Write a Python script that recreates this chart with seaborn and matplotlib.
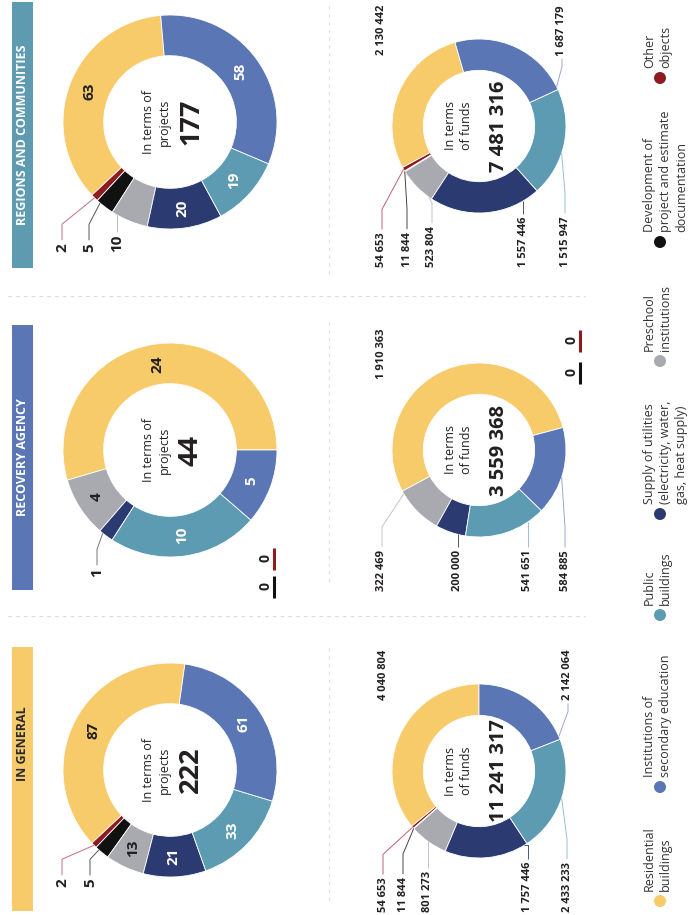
import numpy as np
import seaborn as sns
import matplotlib.pyplot as plt
from matplotlib.patches import Rectangle, Circle

# ---- data ----
categories = ["Residential\nbuildings",
              "Institutions of\nsecondary education",
              "Public\nbuildings",
              "Supply of utilities\n(electricity, water,\ngas, heat supply)",
              "Preschool\ninstitutions",
              "Development of\nproject and estimate\ndocumentation",
              "Other\nobjects"]
panel_titles = ["IN GENERAL", "RECOVERY AGENCY", "REGIONS AND COMMUNITIES"]

general_projects = [87, 61, 33, 21, 13, 5, 2]
agency_projects = [24, 5, 10, 1, 4, 0, 0]
regions_projects = [63, 58, 19, 20, 10, 5, 2]
projects_totals = [222, 44, 177]

general_funds = [4040804, 2142064, 2433233, 1757446, 801273, 11844, 54653]
agency_funds = [1910363, 584885, 541651, 200000, 322469, 0, 0]
regions_funds = [2130442, 1687179, 1515947, 1557446, 523804, 11844, 54653]
funds_totals = [11241317, 3559368, 7481316]

palette = sns.color_palette(["#F8CB6A", "#5A76B5", "#5C9BB2", "#2B3B71",
                             "#A9AAB0", "#111111", "#8E1B20"])
bar_colors = ["#F8CB6A", "#5A76B5", "#5E9BB1"]
bar_text_colors = ["#2a2a2a", "white", "white"]
dark_text = ["#231f20", "white", "white", "white", "#231f20", "white", "white"]
TXT = "#231f20"

# ---- layout (pixels of the 698x915 page, y downwards) ----
W, H = 698, 915
order = [0, 6, 5, 4, 3, 2, 1]          # drawing order around the ring

proj_cx, proj_r = 170, 107
proj_cy = [770, 450, 122]
proj_start = [82, 0, 95]
proj_outside = [{6: 62, 5: 90}, {3: 97}, {6: 62, 5: 89, 4: 117}]
proj_label_base = [887, 577, 252]

funds_cx, funds_r = 479, 87
funds_cy = [771, 450, 126]
funds_start = [90, 15, 106]
funds_top = [{0: 383, 1: 568}, {0: 382}, {0: 382, 1: 562}]
funds_bottom = [{6: 383, 5: 403, 4: 428, 3: 528, 2: 567},
                {4: 382, 3: 458, 2: 528, 1: 565},
                {6: 382, 5: 407, 4: 432, 3: 523, 2: 565}]

bar_spans = [(647, 911), (325, 590), (2, 268)]
bar_text_y = [744, 457, 135]
legend_y = [901, 787, 615, 514, 361, 242, 78]

sns.set_theme(style="white")
plt.rcParams['font.family'] = ['Open Sans', 'DejaVu Sans']

fig = plt.figure(figsize=(W / 100, H / 100), dpi=100)
fig.patch.set_facecolor("white")


def fmt(v):
    return f"{v:,}".replace(",", " ")


def donut(vals, cx, cy, r, start, width):
    ax = fig.add_axes([(cx - r) / W, 1 - (cy + r) / H, 2 * r / W, 2 * r / H])
    idx = [i for i in order if vals[i] > 0]
    ax.pie([vals[i] for i in idx], colors=[palette[i] for i in idx],
           startangle=start, counterclock=True, radius=1,
           wedgeprops=dict(width=width, edgecolor="white", linewidth=0.6))
    ax.set_xlim(-1, 1)
    ax.set_ylim(-1, 1)
    ax.set_aspect("equal")
    ax.axis("off")
    # angular range of each category
    v = np.array([vals[i] for i in order], float)
    edges = start + np.concatenate([[0], np.cumsum(v / v.sum() * 360)])
    return {c: (edges[k], edges[k + 1]) for k, c in enumerate(order)}


def attach(cx, cy, r, rng, lx, top):
    a0, a1 = rng
    m = min(2.0, (a1 - a0) / 2)
    lo, hi = a0 + m, a1 - m
    t = np.clip((lx - cx) / r, -0.95, 0.95)
    base = np.degrees(np.arccos(t))
    th = base if top else 360 - base
    cands = [th + 360 * k for k in (-1, 0, 1, 2)]
    best = min(cands, key=lambda c: abs(np.clip(c, lo, hi) - c))
    th = np.radians(np.clip(best, lo, hi))
    return cx + r * np.cos(th), cy - r * np.sin(th)


# donuts first, overlay axes on top
proj_sets = [general_projects, agency_projects, regions_projects]
funds_sets = [general_funds, agency_funds, regions_funds]
proj_rng, funds_rng = [], []
for p in range(3):
    proj_rng.append(donut(proj_sets[p], proj_cx, proj_cy[p], proj_r, proj_start[p], 0.38))
    funds_rng.append(donut(funds_sets[p], funds_cx, funds_cy[p], funds_r, funds_start[p], 0.36))

ax0 = fig.add_axes([0, 0, 1, 1])
ax0.set_xlim(0, W)
ax0.set_ylim(H, 0)
ax0.axis("off")
renderer = fig.canvas.get_renderer()


def text_span(t):
    bb = t.get_window_extent(renderer=renderer)
    return H - bb.y1, H - bb.y0   # top, bottom in page pixels


def leader(t, cx, cy, r, rng, lx, top, color, knee=20):
    ytop, ybot = text_span(t)
    px, py = attach(cx, cy, r, rng, lx, top)
    if top:
        y0 = ybot + 3
        ky = min(y0 + knee, py)
    else:
        y0 = ytop - 3
        ky = max(y0 - knee, py)
    ax0.plot([lx, lx, px], [y0, ky, py], color=color, lw=0.7, solid_capstyle="butt")


# faint separators
for y in (296, 616):
    ax0.plot([8, 585], [y, y], color="#d9d9d9", lw=0.8, ls=(0, (3, 4)))
for y0, y1 in ((6, 278), (322, 585), (648, 905)):
    ax0.plot([329, 329], [y0, y1], color="#dedede", lw=0.8, ls=(0, (3, 4)))

# panel header bars
for p in range(3):
    a, b = bar_spans[p]
    ax0.add_patch(Rectangle((12, a), 21, b - a, color=bar_colors[p], lw=0))
    ax0.text(22.5, bar_text_y[p], panel_titles[p], rotation=90, ha="center", va="center",
             fontsize=9, fontweight="bold", color=bar_text_colors[p])

for p in range(3):
    vals = proj_sets[p]
    cy = proj_cy[p]
    # centre text
    ax0.text(proj_cx - 22, cy, "In terms of", rotation=90, ha="center", va="center",
             fontsize=9, color=TXT)
    ax0.text(proj_cx - 6, cy, "projects", rotation=90, ha="center", va="center",
             fontsize=9, color=TXT)
    ax0.text(proj_cx + 21, cy, str(projects_totals[p]), rotation=90, ha="center",
             va="center", fontsize=19.5, fontweight="bold", color=TXT)
    for c, (a0, a1) in proj_rng[p].items():
        if vals[c] == 0:
            continue
        if c in proj_outside[p]:
            lx = proj_outside[p][c]
            t = ax0.text(lx, proj_label_base[p], str(vals[c]), rotation=90, ha="center",
                         va="bottom", fontsize=11, fontweight="bold", color=TXT)
            lc = "#c07080" if c == 6 else ("#555555" if c == 5 else "#bbbbbb")
            if c == 3:
                lc = "#777777"
            leader(t, proj_cx, cy, proj_r, (a0, a1), lx, False, lc, knee=16)
        else:
            th = np.radians((a0 + a1) / 2)
            ax0.text(proj_cx + 0.81 * proj_r * np.cos(th), cy - 0.81 * proj_r * np.sin(th),
                     str(vals[c]), rotation=90, ha="center", va="center",
                     fontsize=11, fontweight="bold", color=dark_text[c])

    fvals = funds_sets[p]
    fcy = funds_cy[p]
    ax0.text(funds_cx - 29, fcy, "In terms", rotation=90, ha="center", va="center",
             fontsize=9, color=TXT)
    ax0.text(funds_cx - 12, fcy, "of funds", rotation=90, ha="center", va="center",
             fontsize=9, color=TXT)
    ax0.text(funds_cx + 20, fcy, fmt(funds_totals[p]), rotation=90, ha="center",
             va="center", fontsize=14.5, fontweight="bold", color=TXT)
    line_cols = {1: "#9aa8cc", 2: "#9cc0cc", 3: "#4a5580", 4: "#c4c4c8",
                 5: "#444444", 6: "#c06070"}
    for c, lx in funds_top[p].items():
        t = ax0.text(lx, fcy - 121, fmt(fvals[c]), rotation=90, ha="center", va="top",
                     fontsize=8, fontweight="bold", color=TXT)
        if c != 0:
            leader(t, funds_cx, fcy, funds_r, funds_rng[p][c], lx, True, line_cols[c], knee=8)
    for c, lx in funds_bottom[p].items():
        t = ax0.text(lx, fcy + 141, fmt(fvals[c]), rotation=90, ha="center", va="bottom",
                     fontsize=8, fontweight="bold", color=TXT)
        leader(t, funds_cx, fcy, funds_r, funds_rng[p][c], lx, False, line_cols[c])

# zero categories of the recovery agency
zero_spots = {"proj": [(265, 586, 274), (265, 558, 274)],
              "funds": [(571, 372, 580), (571, 340, 580)]}
for key, vals in (("proj", agency_projects), ("funds", agency_funds)):
    for k, c in enumerate([c for c in (5, 6) if vals[c] == 0]):
        x, y, bx = zero_spots[key][k]
        ax0.text(x, y, str(vals[c]), rotation=90, ha="center", va="center",
                 fontsize=10, fontweight="bold", color=TXT)
        ax0.plot([bx, bx], [y + 12, y - 10], color=palette[c], lw=2.2, solid_capstyle="butt")

# legend
for c in range(len(categories)):
    y = legend_y[c]
    ax0.add_patch(Circle((660, y), 6, color=palette[c], lw=0))
    ax0.text(643, y - 10, categories[c], rotation=90, ha="left", va="bottom",
             fontsize=9, color="#333333", linespacing=1.3, multialignment="left")

fig.savefig("out.png", dpi=100, facecolor="white")
